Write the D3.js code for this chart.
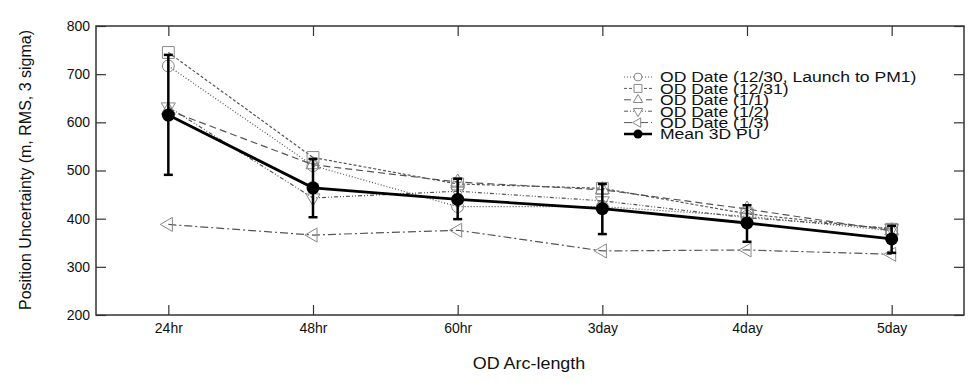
<!DOCTYPE html>
<html>
<head>
<meta charset="utf-8">
<script src="https://cdn.jsdelivr.net/npm/d3@7"></script>
<style>
  body { margin: 0; background: #fff; }
  svg { font-family: "Liberation Sans", Arial, Helvetica, sans-serif; }
</style>
</head>
<body>
<svg id="chart" width="980" height="383"></svg>
<script>
// arc lengths on the x axis
const arcLengths = ["24hr", "48hr", "60hr", "3day", "4day", "5day"];
const yTicks = [200, 300, 400, 500, 600, 700, 800];

// individual OD solutions (m, RMS, 3 sigma)
const od1230 = [717, 510, 425, 425, 405, 375];
const od1231 = [745, 527, 472, 463, 410, 378];
const od0101 = [625, 512, 476, 460, 420, 375];
const od0102 = [632, 443, 457, 437, 402, 380];
const od0103 = [388, 366, 376, 333, 335, 326];

// mean and its error bar
const meanPU = [615, 464, 440, 421, 391, 358];
const errLow = [491, 403, 399, 368, 352, 329];
const errHigh = [740, 524, 483, 472, 428, 385];

const series = [
    { name: "OD Date (12/30, Launch to PM1)", values: od1230, symbol: d3.symbolCircle, size: 110, rot: 0, dash: "1,2" },
    { name: "OD Date (12/31)", values: od1231, symbol: d3.symbolSquare, size: 140, rot: 0, dash: "3,2" },
    { name: "OD Date (1/1)", values: od0101, symbol: d3.symbolTriangle, size: 85, rot: 0, dash: "7,4" },
    { name: "OD Date (1/2)", values: od0102, symbol: d3.symbolTriangle, size: 85, rot: 180, dash: "4,2,1,2,1,2" },
    { name: "OD Date (1/3)", values: od0103, symbol: d3.symbolTriangle, size: 85, rot: -90, dash: "8,3,2,3" }
];

const svg = d3.select("#chart");
const margin = { top: 26, right: 16, bottom: 68, left: 96 };
const width = 980 - margin.left - margin.right;
const height = 383 - margin.top - margin.bottom;
const stretch = 1.1;   // the original lettering is a little wide

const g = svg.append("g").attr("transform", `translate(${margin.left},${margin.top})`);

const x = d3.scaleLinear().domain([0.5, 6.5]).range([0, width]);
const y = d3.scaleLinear().domain([200, 800]).range([height, 0]);
const idx = arcLengths.map((d, i) => i + 1);

// axes with inward ticks
const axisStyle = sel => {
    sel.select(".domain").remove();
    sel.selectAll(".tick line").attr("stroke", "#333").attr("stroke-width", 1.2);
    sel.selectAll(".tick text").attr("font-size", 14).attr("fill", "#111")
        .attr("font-family", "Liberation Sans, Arial, sans-serif");
};

g.append("g").attr("transform", `translate(0,${height})`)
    .call(d3.axisBottom(x).tickValues(idx).tickFormat(d => arcLengths[d - 1]).tickSizeInner(-10).tickSizeOuter(0).tickPadding(8))
    .call(axisStyle);
g.append("g")
    .call(d3.axisTop(x).tickValues(idx).tickFormat("").tickSizeInner(-10).tickSizeOuter(0))
    .call(axisStyle);
g.append("g")
    .call(d3.axisLeft(y).tickValues(yTicks).tickSizeInner(-10).tickSizeOuter(0).tickPadding(6))
    .call(axisStyle);
g.append("g").attr("transform", `translate(${width},0)`)
    .call(d3.axisRight(y).tickValues(yTicks).tickFormat("").tickSizeInner(-10).tickSizeOuter(0))
    .call(axisStyle);

g.append("rect").attr("width", width).attr("height", height)
    .attr("fill", "none").attr("stroke", "#333").attr("stroke-width", 1.5);

// axis titles
svg.append("text")
    .attr("transform", `translate(${margin.left + x(3.5) - 1},369) scale(${stretch},1)`)
    .attr("text-anchor", "middle").attr("font-size", 16.3).attr("fill", "#111")
    .text("OD Arc-length");
svg.append("text")
    .attr("transform", "translate(31,170) rotate(-90)")
    .attr("text-anchor", "middle").attr("font-size", 16).attr("fill", "#111")
    .text("Position Uncertainty (m, RMS, 3 sigma)");

const line = d3.line().x((d, i) => x(i + 1)).y(d => y(d));

// OD date series
series.forEach(s => {
    g.append("path").datum(s.values)
        .attr("d", line).attr("fill", "none")
        .attr("stroke", "#555").attr("stroke-width", 1.2)
        .attr("stroke-dasharray", s.dash);
    g.selectAll(null).data(s.values).enter().append("path")
        .attr("d", d3.symbol().type(s.symbol).size(s.size))
        .attr("transform", (d, i) => `translate(${x(i + 1)},${y(d)}) rotate(${s.rot})`)
        .attr("fill", "none").attr("stroke", "#888").attr("stroke-width", 1);
});

// mean with error bars
g.append("path").datum(meanPU)
    .attr("d", line).attr("fill", "none")
    .attr("stroke", "#000").attr("stroke-width", 2.8);

const eb = g.selectAll(".eb").data(meanPU).enter().append("g").attr("class", "eb");
eb.append("line")
    .attr("x1", (d, i) => x(i + 1)).attr("x2", (d, i) => x(i + 1))
    .attr("y1", (d, i) => y(errLow[i])).attr("y2", (d, i) => y(errHigh[i]))
    .attr("stroke", "#000").attr("stroke-width", 2.5);
[errLow, errHigh].forEach(arr => {
    eb.append("line")
        .attr("x1", (d, i) => x(i + 1) - 4.5).attr("x2", (d, i) => x(i + 1) + 4.5)
        .attr("y1", (d, i) => y(arr[i])).attr("y2", (d, i) => y(arr[i]))
        .attr("stroke", "#000").attr("stroke-width", 2.5);
});
eb.append("circle")
    .attr("cx", (d, i) => x(i + 1)).attr("cy", d => y(d))
    .attr("r", 6.5).attr("fill", "#000");

// legend
const legend = svg.append("g").attr("transform", "translate(624,77)");
const rowH = 11.4;
series.forEach((s, i) => {
    const row = legend.append("g").attr("transform", `translate(0,${i * rowH})`);
    row.append("line").attr("x1", 0).attr("x2", 28).attr("y1", 0).attr("y2", 0)
        .attr("stroke", "#555").attr("stroke-width", 1).attr("stroke-dasharray", s.dash);
    row.append("path")
        .attr("d", d3.symbol().type(s.symbol).size(s.size * 0.45))
        .attr("transform", `translate(14,0) rotate(${s.rot})`)
        .attr("fill", "#fff").attr("stroke", "#888").attr("stroke-width", 1);
    row.append("text").attr("transform", `translate(36,0) scale(1.17,1)`).attr("dy", "0.36em")
        .attr("font-size", 15).attr("fill", "#111").text(s.name);
});
const meanRow = legend.append("g").attr("transform", `translate(0,${series.length * rowH})`);
meanRow.append("line").attr("x1", 0).attr("x2", 28).attr("y1", 0).attr("y2", 0)
    .attr("stroke", "#000").attr("stroke-width", 2.5);
meanRow.append("circle").attr("cx", 14).attr("cy", 0).attr("r", 4.5).attr("fill", "#000");
meanRow.append("text").attr("transform", `translate(36,0) scale(1.17,1)`).attr("dy", "0.36em")
    .attr("font-size", 15).attr("fill", "#111").text("Mean 3D PU");
</script>
</body>
</html>
